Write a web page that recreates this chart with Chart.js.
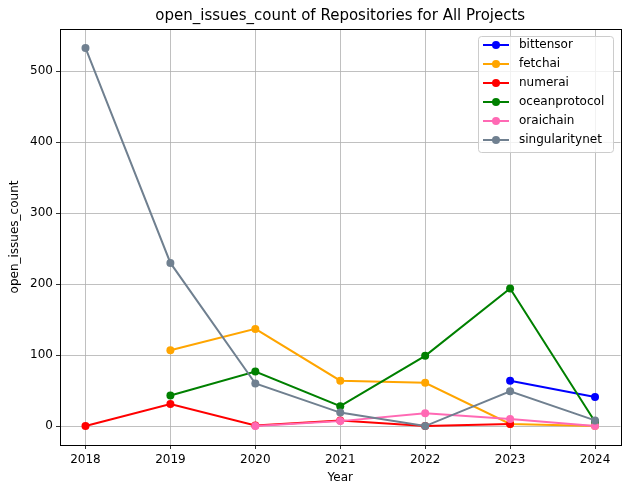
<!DOCTYPE html>
<html>
<head>
<meta charset="utf-8">
<script src="https://cdn.jsdelivr.net/npm/chart.js@4/dist/chart.umd.min.js"></script>
<style>
    html, body { margin: 0; padding: 0; background: #fff; }
    #wrap { width: 627px; height: 493px; position: relative; }
</style>
</head>
<body>
<div id="wrap"><canvas id="issuesChart" width="627" height="493"></canvas></div>
<script>
// Données
const years = [2018, 2019, 2020, 2021, 2022, 2023, 2024];
const yTicks = [0, 100, 200, 300, 400, 500];

const bittensor      = [null, null, null, null, null, 64, 41];
const fetchai        = [null, 107, 137, 64, 61, 3, 0];
const numerai        = [0, 31, 1, 8, 0, 3, null];
const oceanprotocol  = [null, 43, 77, 28, 99, 194, 6];
const oraichain      = [null, null, 0, 7, 18, 10, 0];
const singularitynet = [533, 230, 60, 19, 0, 49, 8];

const projects = ['bittensor', 'fetchai', 'numerai', 'oceanprotocol', 'oraichain', 'singularitynet'];
const seriesValues = [bittensor, fetchai, numerai, oceanprotocol, oraichain, singularitynet];
const colors = ['#0000ff', '#ffa500', '#ff0000', '#008000', '#ff69b4', '#708090'];

const FONT = '"DejaVu Sans", sans-serif';
const SMALL = 12;

function toPoints(values) {
    return years.map((y, i) => ({ x: y, y: values[i] })).filter(p => p.y !== null);
}

const datasets = projects.map((name, i) => ({
    label: name,
    data: toPoints(seriesValues[i]),
    borderColor: colors[i],
    backgroundColor: colors[i],
    borderWidth: 2,
    pointRadius: 4,
    pointHoverRadius: 4,
    pointBorderWidth: 0,
    tension: 0,
    order: projects.length - i
}));

// Titre, cadre et légende dessinés à la manière de matplotlib
const decorPlugin = {
    id: 'decor',
    afterDraw(chart) {
        const ctx = chart.ctx;
        const a = chart.chartArea;
        ctx.save();

        // cadre
        ctx.strokeStyle = '#000';
        ctx.lineWidth = 1;
        ctx.strokeRect(Math.round(a.left) + 0.5, Math.round(a.top) + 0.5,
            Math.round(a.right - a.left), Math.round(a.bottom - a.top));

        // titres
        ctx.fillStyle = '#000';
        ctx.textAlign = 'center';
        ctx.textBaseline = 'middle';
        ctx.font = '15px ' + FONT;
        ctx.fillText('open_issues_count of Repositories for All Projects', (a.left + a.right) / 2, 16);
        ctx.font = SMALL + 'px ' + FONT;
        ctx.fillText('Year', (a.left + a.right) / 2, 478);
        ctx.save();
        ctx.translate(15, (a.top + a.bottom) / 2);
        ctx.rotate(-Math.PI / 2);
        ctx.fillText('open_issues_count', 0, 0);
        ctx.restore();

        // légende
        const lx = 478, ly = 36, lw = 135, lh = 116;
        ctx.fillStyle = 'rgba(255,255,255,0.8)';
        ctx.strokeStyle = '#cccccc';
        ctx.lineWidth = 1;
        ctx.beginPath();
        ctx.roundRect(lx + 0.5, ly + 0.5, lw, lh, 3);
        ctx.fill();
        ctx.stroke();
        ctx.textAlign = 'left';
        ctx.font = SMALL + 'px ' + FONT;
        chart.data.datasets.forEach((ds, i) => {
            const y = 45 + i * 19;
            ctx.strokeStyle = ds.borderColor;
            ctx.lineWidth = 2;
            ctx.beginPath();
            ctx.moveTo(483, y);
            ctx.lineTo(509, y);
            ctx.stroke();
            ctx.fillStyle = ds.borderColor;
            ctx.beginPath();
            ctx.arc(496, y, 4, 0, Math.PI * 2);
            ctx.fill();
            ctx.fillStyle = '#000';
            ctx.fillText(ds.label, 519, y);
        });
        ctx.restore();
    }
};

const ctx = document.getElementById('issuesChart').getContext('2d');
new Chart(ctx, {
    type: 'line',
    data: { datasets: datasets },
    options: {
        responsive: false,
        animation: false,
        events: [],
        layout: { padding: { top: 29, right: 6.5, left: 0, bottom: 0 } },
        plugins: {
            legend: { display: false },
            title: { display: false },
            tooltip: { enabled: false }
        },
        scales: {
            x: {
                type: 'linear',
                min: 2017.7,
                max: 2024.3,
                afterBuildTicks: scale => { scale.ticks = years.map(v => ({ value: v })); },
                afterFit: scale => { scale.height = 48; },
                grid: { color: '#b0b0b0', lineWidth: 0.8, tickColor: '#000', tickLength: 4 },
                border: { display: false },
                ticks: {
                    color: '#000',
                    padding: 4,
                    maxRotation: 0,
                    font: { family: FONT, size: SMALL },
                    callback: v => String(v)
                }
            },
            y: {
                type: 'linear',
                min: -26.65,
                max: 559.65,
                afterBuildTicks: scale => { scale.ticks = yTicks.map(v => ({ value: v })); },
                afterFit: scale => { scale.width = 60; },
                grid: { color: '#b0b0b0', lineWidth: 0.8, tickColor: '#000', tickLength: 4 },
                border: { display: false },
                ticks: {
                    color: '#000',
                    padding: 3,
                    font: { family: FONT, size: SMALL },
                    callback: v => String(v)
                }
            }
        }
    },
    plugins: [decorPlugin]
});
</script>
</body>
</html>
